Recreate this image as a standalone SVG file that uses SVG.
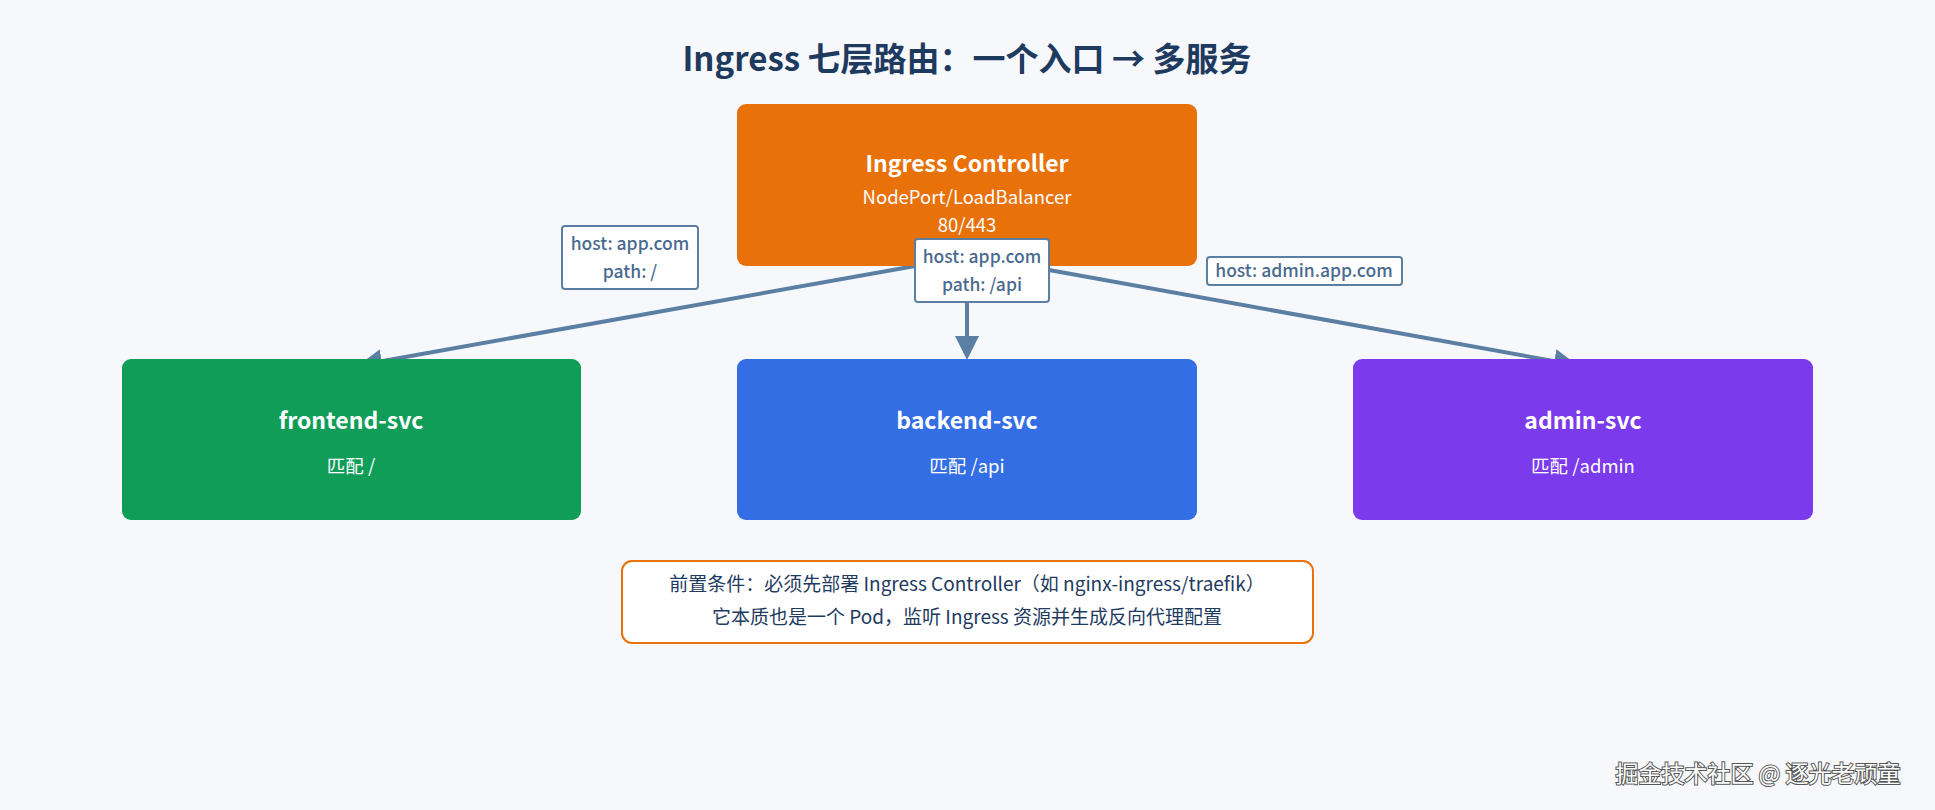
<svg xmlns="http://www.w3.org/2000/svg" width="1935" height="810" viewBox="0 0 1935 810">
<defs>
<style>
text{font-family:"Noto Sans CJK SC","Noto Sans",sans-serif;text-anchor:middle}
.t{fill:#fff}
.n{font-size:23px;font-weight:600}
.s{font-size:18.5px}
.lbl{fill:#fff;stroke:#5b7fa3;stroke-width:2}
.lt{fill:#4a6a8f;font-size:17.5px;font-weight:500}
.c{stroke:#5b7fa3;stroke-width:4;fill:none;marker-end:url(#a)}
</style>
<marker id="a" markerWidth="6" markerHeight="6" refX="4" refY="3" orient="auto" markerUnits="strokeWidth"><path d="M0,0L6,3L0,6z" fill="#5b7fa3"/></marker>
</defs>
<rect width="1935" height="810" fill="#f6f8fc"/>
<text x="967" y="71" font-size="33" font-weight="bold" fill="#1e3a5f">Ingress 七层路由：一个入口 → 多服务</text>
<g id="connectors">
<line class="c" x1="915" y1="266" x2="366" y2="364"/>
<line class="c" x1="967" y1="300" x2="967" y2="352"/>
<line class="c" x1="1049" y1="270" x2="1570" y2="364"/>
</g>
<g id="controller"><rect x="737" y="104" width="460" height="162" rx="9" fill="#e8710a"/>
<text class="t n" x="967" y="172">Ingress Controller</text>
<text class="t s" x="967" y="204">NodePort/LoadBalancer</text>
<text class="t s" x="967" y="232">80/443</text></g>
<g id="frontend"><rect x="122" y="359" width="459" height="161" rx="9" fill="#0f9d58"/>
<text class="t n" x="351" y="429">frontend-svc</text>
<text class="t s" x="351" y="473">匹配 /</text></g>
<g id="backend"><rect x="737" y="359" width="460" height="161" rx="9" fill="#346ee4"/>
<text class="t n" x="967" y="429">backend-svc</text>
<text class="t s" x="967" y="473">匹配 /api</text></g>
<g id="admin"><rect x="1353" y="359" width="460" height="161" rx="9" fill="#7b3aec"/>
<text class="t n" x="1583" y="429">admin-svc</text>
<text class="t s" x="1583" y="473">匹配 /admin</text></g>
<g id="label-frontend"><rect class="lbl" x="562" y="226" width="136" height="63" rx="3"/>
<text class="lt" x="630" y="250">host: app.com</text><text class="lt" x="630" y="278">path: /</text></g>
<g id="label-backend"><rect class="lbl" x="915" y="239" width="134" height="63" rx="3"/>
<text class="lt" x="982" y="263">host: app.com</text><text class="lt" x="982" y="291">path: /api</text></g>
<g id="label-admin"><rect class="lbl" x="1207" y="257" width="195" height="28" rx="3"/>
<text class="lt" x="1304" y="277">host: admin.app.com</text></g>
<g id="note"><rect x="622" y="561" width="691" height="82" rx="10" fill="#fff" stroke="#e8710a" stroke-width="2"/>
<text x="967" y="591" font-size="19" fill="#1e3a5f">前置条件：必须先部署 Ingress Controller（如 nginx-ingress/traefik）</text>
<text x="967" y="624" font-size="19" fill="#1e3a5f">它本质也是一个 Pod，监听 Ingress 资源并生成反向代理配置</text></g>
<text x="1758" y="782" font-size="23" fill="#fff" stroke="#555" stroke-width="2" paint-order="stroke">掘金技术社区 @ 逐光老顽童</text>
</svg>
